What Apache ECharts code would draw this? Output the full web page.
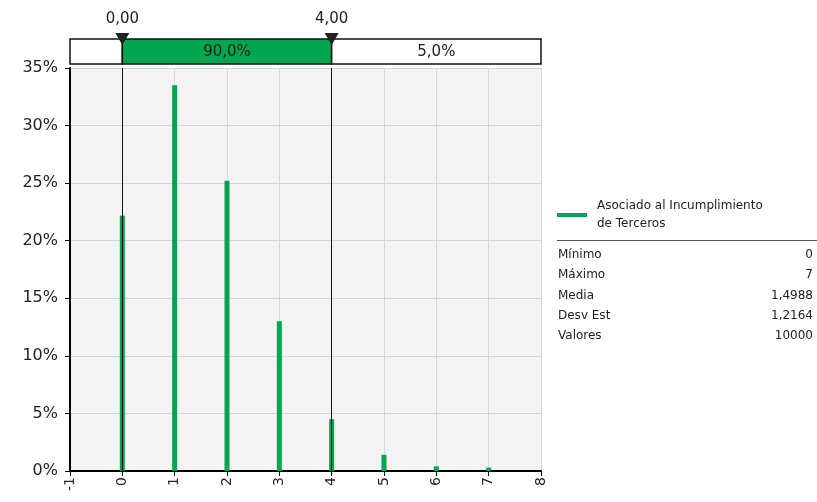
<!DOCTYPE html>
<html>
<head>
<meta charset="utf-8">
<script src="https://cdn.jsdelivr.net/npm/echarts@6/dist/echarts.min.js"></script>
<style>html,body{margin:0;padding:0;background:#fff}#c{width:817px;height:502px}</style>
</head>
<body>
<div id="c"></div>
<script>
// ---- data ----
const seriesName = 'Asociado al Incumplimiento\nde Terceros';
const xValues = [0, 1, 2, 3, 4, 5, 6, 7];
const probs = [0.222, 0.335, 0.252, 0.130, 0.045, 0.014, 0.004, 0.003];
const bandSegments = [[-1, 0, ''], [0, 4, '90,0%'], [4, 8, '5,0%']];
const markerValues = [0, 4];
const markerLabels = ['0,00', '4,00'];
const statLabels = ['Mínimo', 'Máximo', 'Media', 'Desv Est', 'Valores'];
const statValues = ['0', '7', '1,4988', '1,2164', '10000'];
const xMin = -1, xMax = 8, yMax = 0.35;

const FONT = 'DejaVu Sans';
const GREEN = '#00a64f';

const chart = echarts.init(document.getElementById('c'), null, {renderer: 'canvas'});

const statGraphics = [];
statGraphics.push({type: 'line', shape: {x1: 557, y1: 240.5, x2: 817, y2: 240.5}, style: {stroke: '#555', lineWidth: 1}});
statLabels.forEach((l, i) => {
  const y = 255 + i * 20.3;
  statGraphics.push({type: 'text', x: 558, y: y, style: {text: l, font: '12px ' + FONT, fill: '#222', textVerticalAlign: 'middle'}});
  statGraphics.push({type: 'text', x: 813, y: y, style: {text: statValues[i], font: '12px ' + FONT, fill: '#222', textAlign: 'right', textVerticalAlign: 'middle'}});
});

chart.setOption({
  animation: false,
  backgroundColor: '#fff',
  grid: [
    {left: 70, right: 276, top: 68, bottom: 31, show: true, backgroundColor: '#f3f3f3', borderWidth: 0},
    {left: 70, right: 276, top: 39, height: 25, show: false}
  ],
  legend: {
    left: 552, top: 192, orient: 'vertical', icon: 'rect', itemWidth: 30, itemHeight: 4,
    textStyle: {fontFamily: FONT, fontSize: 12, color: '#222', lineHeight: 18, padding: [0, 0, 0, 5]},
    data: [seriesName]
  },
  xAxis: [
    {gridIndex: 0, type: 'value', min: xMin, max: xMax, interval: 1,
      axisLine: {show: true, onZero: false, lineStyle: {color: '#000', width: 2}},
      axisTick: {show: true, length: 5, lineStyle: {color: '#000'}},
      axisLabel: {rotate: 90, fontFamily: FONT, fontSize: 14, color: '#222', margin: 6},
      splitLine: {show: true, lineStyle: {color: '#d6d6d6'}}},
    {gridIndex: 1, type: 'value', min: xMin, max: xMax, show: false}
  ],
  yAxis: [
    {gridIndex: 0, type: 'value', min: 0, max: yMax, interval: 0.05,
      axisLine: {show: true, onZero: false, lineStyle: {color: '#000', width: 2}},
      axisTick: {show: true, length: 5, lineStyle: {color: '#000'}},
      axisLabel: {fontFamily: FONT, fontSize: 16, color: '#222', margin: 12,
        formatter: v => Math.round(v * 100) + '%'},
      splitLine: {show: true, lineStyle: {color: '#d6d6d6'}}},
    {gridIndex: 1, type: 'value', min: 0, max: 1, show: false}
  ],
  series: [
    {
      name: seriesName, type: 'bar', xAxisIndex: 0, yAxisIndex: 0,
      barWidth: 5, itemStyle: {color: GREEN},
      data: xValues.map((x, i) => [x, probs[i]]),
      z: 3,
      markLine: {
        silent: true, symbol: 'none', label: {show: false},
        lineStyle: {color: '#111', width: 1, type: 'solid'},
        data: markerValues.map(v => ({xAxis: v})),
        z: 4
      }
    },
    {
      type: 'custom', xAxisIndex: 1, yAxisIndex: 1, silent: true,
      data: bandSegments,
      renderItem: (params, api) => {
        const p0 = api.coord([api.value(0), 1]);
        const p1 = api.coord([api.value(1), 0]);
        const green = api.value(2) === '90,0%';
        return {
          type: 'group',
          children: [
            {type: 'rect', shape: {x: p0[0], y: p0[1], width: p1[0] - p0[0], height: p1[1] - p0[1]},
              style: {fill: green ? GREEN : '#fff', stroke: '#111', lineWidth: 1.5}},
            {type: 'text', x: (p0[0] + p1[0]) / 2, y: (p0[1] + p1[1]) / 2 + 1,
              style: {text: bandSegments[params.dataIndex][2], font: '15px ' + FONT, fill: '#222', textAlign: 'center', textVerticalAlign: 'middle'}}
          ]
        };
      }
    },
    {
      type: 'custom', xAxisIndex: 1, yAxisIndex: 1, silent: true, z: 5,
      data: markerValues.map((v, i) => [v, i]),
      renderItem: (params, api) => {
        const p = api.coord([api.value(0), 1]);
        return {
          type: 'group',
          children: [
            {type: 'polygon', shape: {points: [[p[0] - 7, p[1] - 6], [p[0] + 7, p[1] - 6], [p[0], p[1] + 6]]},
              style: {fill: '#222'}},
            {type: 'text', x: p[0], y: p[1] - 20,
              style: {text: markerLabels[params.dataIndex], font: '15px ' + FONT, fill: '#222', textAlign: 'center', textVerticalAlign: 'middle'}}
          ]
        };
      }
    }
  ],
  graphic: statGraphics
});
</script>
</body>
</html>
